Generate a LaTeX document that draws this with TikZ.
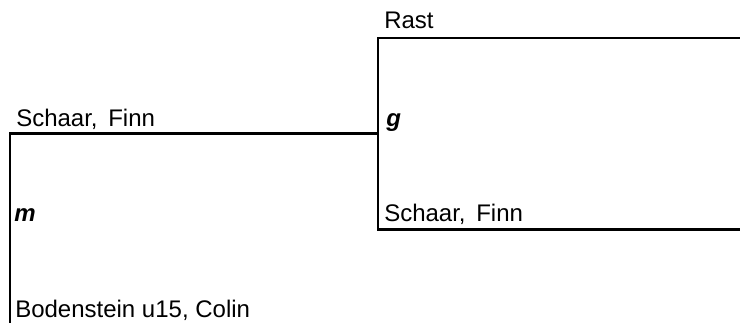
\documentclass[tikz,border=0pt]{standalone}
\usepackage{fontspec}
\setmainfont{Liberation Sans}
\begin{document}
\begin{tikzpicture}[x=0.75pt,y=-0.75pt,
  lbl/.style={anchor=base west,inner sep=0pt,font=\fontsize{18}{21}\selectfont},
  rnd/.style={anchor=base west,inner sep=0pt,font=\fontsize{18}{21}\selectfont\bfseries\itshape},
  br/.style={line width=2.2pt,line cap=rect}]
\useasboundingbox (0,0) rectangle (740,323);
\coordinate (a1) at (10,133.5);
\coordinate (a2) at (10,330);
\coordinate (j) at (378,133.5);
\coordinate (t) at (378,38);
\coordinate (b) at (378,229.5);
\coordinate (te) at (745,38);
\coordinate (be) at (745,229.5);
\draw[br] (a2) -- (a1) -- (j);
\draw[br] (te) -- (t) -- (b) -- (be);
\node[lbl] (n1) at (16,127) {Schaar,\, Finn};
\node[rnd] (n2) at (14,222) {m};
\node[lbl] (n3) at (15,318) {Bodenstein u15, Colin};
\node[lbl] (n4) at (384,29) {Rast};
\node[rnd] (n5) at (386,127) {g};
\node[lbl] (n6) at (384,222) {Schaar,\, Finn};
\end{tikzpicture}
\end{document}
